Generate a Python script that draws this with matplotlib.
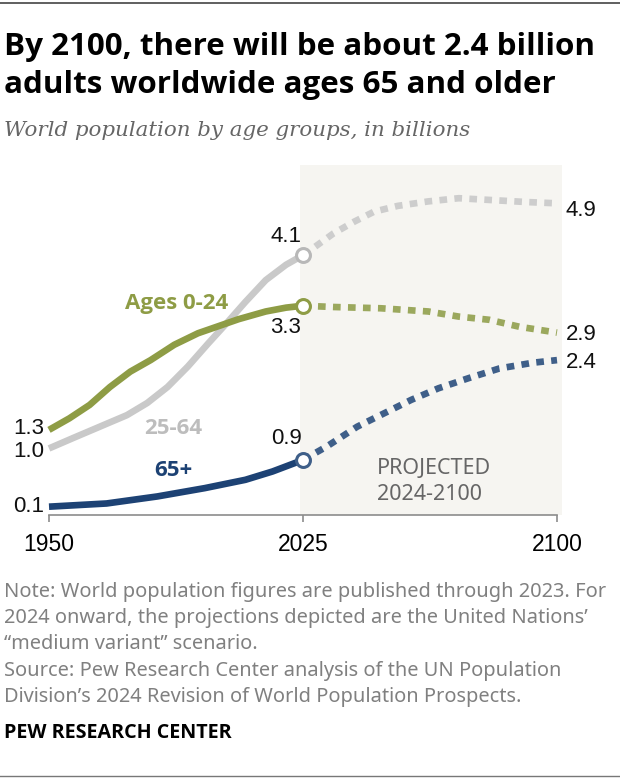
import matplotlib
matplotlib.use("Agg")
import matplotlib.pyplot as plt

# Values (billions)
hist_years = [1950, 1956, 1962, 1968, 1974, 1980, 1987, 1994, 2000, 2006, 2014, 2020, 2025]
young_hist = [1.33, 1.51, 1.72, 2.00, 2.24, 2.42, 2.66, 2.84, 2.95, 3.06, 3.18, 3.24, 3.27]

mid_hist_years = [1950, 1957, 1965, 1973, 1979, 1985, 1991, 1997, 2002, 2008, 2014, 2020, 2025]
mid_hist = [1.04, 1.20, 1.38, 1.56, 1.75, 2.00, 2.32, 2.68, 2.97, 3.33, 3.67, 3.91, 4.06]

old_hist_years = [1950, 1967, 1982, 1996, 2008, 2016, 2021, 2025]
old_hist = [0.13, 0.18, 0.29, 0.42, 0.55, 0.68, 0.78, 0.86]

proj_years_mid = [2025, 2028, 2034, 2040, 2046, 2053, 2062, 2071, 2081, 2091, 2100]
mid_proj = [4.06, 4.17, 4.40, 4.58, 4.74, 4.83, 4.90, 4.95, 4.92, 4.89, 4.87]

proj_years_young = [2025, 2034, 2048, 2062, 2071, 2080, 2089, 2100]
young_proj = [3.27, 3.25, 3.23, 3.18, 3.10, 3.05, 2.94, 2.85]

proj_years_old = [2025, 2032, 2041, 2049, 2057, 2065, 2074, 2083, 2093, 2100]
old_proj = [0.86, 1.07, 1.38, 1.59, 1.80, 1.98, 2.14, 2.29, 2.38, 2.42]

start_labels = ["1.3", "1.0", "0.1"]
now_labels = ["4.1", "3.3", "0.9"]
end_labels = ["4.9", "2.9", "2.4"]
x_ticks = [1950, 2025, 2100]

GREEN = "#8e9c45"
GREEN_P = "#9ba85d"
GRAY = "#c9c9c9"
GRAY_P = "#cdcdcd"
BLUE = "#1d4274"
BLUE_P = "#3f5f89"

BOLDC = dict(family=["Open Sans", "DejaVu Sans"], fontstretch="condensed", weight="bold")
LIGHTC = dict(family=["Noto Sans", "DejaVu Sans"], fontstretch="condensed")
REG = ["Liberation Sans", "DejaVu Sans"]

W, H = 620, 780
fig = plt.figure(figsize=(W / 100, H / 100), dpi=100)


def px(x, y):
    return x / W, 1 - y / H


# axes placed so 1950 -> 49px, 2100 -> 557px, 0 -> 515px, 64 px per billion
x0, x1 = 1950, 2101.5
ppy = (557 - 49) / 150
ax_left = 49
ax_right = 49 + (x1 - x0) * ppy
y_top_val = 5.47
ax_top = 515 - y_top_val * 64
ax = fig.add_axes([ax_left / W, 1 - 515 / H, (ax_right - ax_left) / W, (515 - ax_top) / H])
ax.set_xlim(x0, x1)
ax.set_ylim(0, y_top_val)

# projected period shading
ax.axvspan(2024, x1, color="#f6f5f1", lw=0, zorder=0)

lw = 4.8
ax.plot(mid_hist_years, mid_hist, color=GRAY, lw=lw, solid_capstyle="butt", clip_on=False, zorder=2)
ax.plot(hist_years, young_hist, color=GREEN, lw=lw, solid_capstyle="butt", clip_on=False, zorder=3)
ax.plot(old_hist_years, old_hist, color=BLUE, lw=lw, solid_capstyle="butt", clip_on=False, zorder=3)

dots = (0, (1.15, 1.1))
ax.plot(proj_years_mid, mid_proj, color=GRAY_P, lw=lw, ls=dots, dash_capstyle="butt", clip_on=False, zorder=2)
ax.plot(proj_years_young, young_proj, color=GREEN_P, lw=lw, ls=dots, dash_capstyle="butt", clip_on=False, zorder=3)
ax.plot(proj_years_old, old_proj, color=BLUE_P, lw=lw, ls=dots, dash_capstyle="butt", clip_on=False, zorder=3)

# open circles at 2025
for vals, col in [(mid_hist, "#b8b8b8"), (young_hist, GREEN), (old_hist, BLUE_P)]:
    ax.plot([2025], [vals[-1]], "o", ms=10, mfc="white", mec=col, mew=2.2, zorder=5, clip_on=False)

for s in ["top", "right", "left"]:
    ax.spines[s].set_visible(False)
ax.spines["bottom"].set_color("#8c8c8c")
ax.spines["bottom"].set_linewidth(1.2)
ax.spines["bottom"].set_bounds(1950, 2100)
ax.set_yticks([])
ax.set_xticks(x_ticks)
ax.tick_params(axis="x", length=5, width=1.2, color="#8c8c8c", pad=8, labelsize=16.5)
for lab in ax.get_xticklabels():
    lab.set_family(REG)


def val(x, y, s, ha="center"):
    fig.text(*px(x, y), s, ha=ha, va="center", fontsize=16, family=REG, color="#111111")


for (y, s) in zip([428, 451, 507], start_labels):
    val(44, y, s, ha="right")
for (y, s) in zip([237, 327, 438], now_labels):
    val(286, y, s)
for (y, s) in zip([210, 334, 363], end_labels):
    val(566, y, s, ha="left")

# series labels
fig.text(*px(177, 304), "Ages 0-24", color=GREEN, ha="center", va="center", fontsize=16, **BOLDC)
fig.text(*px(173, 428), "25-64", color="#bdbdbd", ha="center", va="center", fontsize=16, **BOLDC)
fig.text(*px(173, 471), "65+", color=BLUE, ha="center", va="center", fontsize=16, **BOLDC)

fig.text(*px(377, 468), "PROJECTED", ha="left", va="center", fontsize=15.5, color="#666666", **LIGHTC)
fig.text(*px(377, 494), "2024-2100", ha="left", va="center", fontsize=15.5, color="#666666", **LIGHTC)

# title block
fig.add_artist(plt.Line2D([0, 1], [1 - 3 / H, 1 - 3 / H], color="#444444", lw=1.2))
fig.text(*px(4, 47), "By 2100, there will be about 2.4 billion", ha="left", va="center",
         fontsize=22.6, color="black", **BOLDC)
fig.text(*px(4, 85), "adults worldwide ages 65 and older", ha="left", va="center",
         fontsize=22.6, color="black", **BOLDC)
fig.text(*px(4, 131), "World population by age groups, in billions", ha="left", va="center",
         fontsize=15.4, style="italic", family=["DejaVu Serif"], color="#666666")

notes = [
    "Note: World population figures are published through 2023. For",
    "2024 onward, the projections depicted are the United Nations\u2019",
    "\u201cmedium variant\u201d scenario.",
    "Source: Pew Research Center analysis of the UN Population",
    "Division\u2019s 2024 Revision of World Population Prospects.",
]
for i, line in enumerate(notes):
    fig.text(*px(4, 592 + i * 26.2), line, ha="left", va="center", fontsize=14.4,
             color="#808080", **LIGHTC)

fig.text(*px(4, 733), "PEW RESEARCH CENTER", ha="left", va="center", fontsize=14.2,
         color="black", **BOLDC)
fig.add_artist(plt.Line2D([0, 1], [1 - 776 / H, 1 - 776 / H], color="#777777", lw=1.0))

fig.savefig("out.png", dpi=100)
